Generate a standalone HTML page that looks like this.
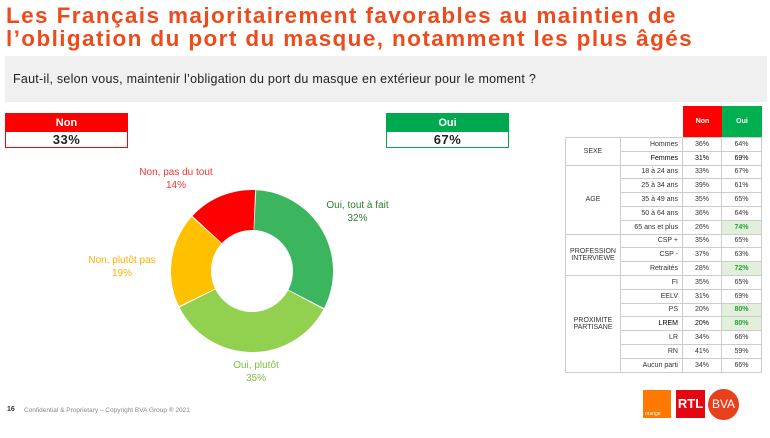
<!DOCTYPE html>
<html><head><meta charset="utf-8"><style>
body{margin:0;width:770px;height:425px;background:#fff;font-family:"Liberation Sans",sans-serif;position:relative;overflow:hidden}
.abs{position:absolute}
h1{position:absolute;left:6px;top:4px;margin:0;font-size:22.5px;line-height:23px;font-weight:bold;letter-spacing:1.4px;color:#ee4a1c;white-space:nowrap}
.q{left:5px;top:56px;width:762px;height:46px;background:#f0f0f0;font-size:12.5px;letter-spacing:0.25px;color:#222;line-height:46px;text-indent:8px}
.box{width:121px;height:33px;font-weight:bold;text-align:center}
.box .h{height:18px;line-height:18px;color:#fff;font-size:11px}
.box .v{height:15px;line-height:15px;font-size:13px;color:#222;background:#fff;letter-spacing:0.5px}
.lab{font-size:10px;text-align:center;line-height:12.5px}
table{position:absolute;left:565px;top:106px;border-collapse:collapse;font-size:7px;color:#333}
td{height:12.8px;padding:0;border:1px solid #ccc;text-align:center}
td.r{text-align:right;padding-right:4px}
td.g{background:#e2efda;color:#22a33a;font-weight:bold}
.b{color:#000}
</style></head><body>
<h1>Les Français majoritairement favorables au maintien de<br>l’obligation du port du masque, notamment les plus âgés</h1>
<div class="abs q">Faut-il, selon vous, maintenir l’obligation du port du masque en extérieur pour le moment ?</div>
<div class="abs box" style="left:5px;top:113px;border:1px solid #f00"><div class="h" style="background:#f00">Non</div><div class="v">33%</div></div>
<div class="abs box" style="left:386px;top:113px;border:1px solid #00a84f"><div class="h" style="background:#00a84f">Oui</div><div class="v">67%</div></div>
<svg class="abs" style="left:0;top:0" width="770" height="425">
<g transform="rotate(-87 252 271)" fill="none" stroke-width="40">
<circle cx="252" cy="271" r="61" stroke="#3bb65e" stroke-dasharray="121.65 261.62" stroke-dashoffset="0"/>
<circle cx="252" cy="271" r="61" stroke="#92d050" stroke-dasharray="133.14 250.13" stroke-dashoffset="-122.65"/>
<circle cx="252" cy="271" r="61" stroke="#ffc000" stroke-dasharray="71.82 311.45" stroke-dashoffset="-256.79"/>
<circle cx="252" cy="271" r="61" stroke="#ff0000" stroke-dasharray="52.66 330.61" stroke-dashoffset="-329.61"/>
</g>
</svg>
<div class="abs lab" style="left:116px;top:167px;width:120px;color:#f33">Non, pas du tout<br>14%</div>
<div class="abs lab" style="left:300px;top:200px;width:115px;color:#2e7d32">Oui, tout à fait<br>32%</div>
<div class="abs lab" style="left:62px;top:255px;width:120px;color:#ffb000">Non, plutôt pas<br>19%</div>
<div class="abs lab" style="left:200px;top:360px;width:112px;color:#7cc040">Oui, plutôt<br>35%</div>
<div class="abs" style="left:683px;top:106px;width:39px;height:31px;background:#f00;color:#fff;font-size:7px;font-weight:bold;text-align:center;line-height:31px">Non</div>
<div class="abs" style="left:722px;top:106px;width:40px;height:31px;background:#00b050;color:#fff;font-size:7px;font-weight:bold;text-align:center;line-height:31px">Oui</div>
<table style="top:137px">
<colgroup><col style="width:55px"><col style="width:62px"><col style="width:39px"><col style="width:40px"></colgroup>
<tr><td rowspan="2">SEXE</td><td class="r">Hommes</td><td>36%</td><td>64%</td></tr>
<tr><td class="r b">Femmes</td><td class="b">31%</td><td class="b">69%</td></tr>
<tr><td rowspan="5">AGE</td><td class="r">18 à 24 ans</td><td>33%</td><td>67%</td></tr>
<tr><td class="r">25 à 34 ans</td><td>39%</td><td>61%</td></tr>
<tr><td class="r">35 à 49 ans</td><td>35%</td><td>65%</td></tr>
<tr><td class="r">50 à 64 ans</td><td>36%</td><td>64%</td></tr>
<tr><td class="r">65 ans et plus</td><td>26%</td><td class="g">74%</td></tr>
<tr><td rowspan="3">PROFESSION<br>INTERVIEWE</td><td class="r">CSP +</td><td>35%</td><td>65%</td></tr>
<tr><td class="r">CSP -</td><td>37%</td><td>63%</td></tr>
<tr><td class="r">Retraités</td><td>28%</td><td class="g">72%</td></tr>
<tr><td rowspan="7">PROXIMITE<br>PARTISANE</td><td class="r">FI</td><td>35%</td><td>65%</td></tr>
<tr><td class="r">EELV</td><td>31%</td><td>69%</td></tr>
<tr><td class="r">PS</td><td>20%</td><td class="g">80%</td></tr>
<tr><td class="r b">LREM</td><td class="b">20%</td><td class="g">80%</td></tr>
<tr><td class="r">LR</td><td>34%</td><td>66%</td></tr>
<tr><td class="r">RN</td><td>41%</td><td>59%</td></tr>
<tr><td class="r">Aucun parti</td><td>34%</td><td>66%</td></tr>
</table>
<div class="abs" style="left:7px;top:406px;font-size:7px;color:#333;font-weight:bold">16</div>
<div class="abs" style="left:24px;top:407px;font-size:6.5px;color:#888">Confidential &amp; Proprietary – Copyright BVA Group ®  2021</div>
<div class="abs" style="left:643px;top:390px;width:28px;height:28px;background:#ff7900;color:#fff;font-size:5px;line-height:48px;text-indent:2px">orange</div>
<div class="abs" style="left:676px;top:390px;width:29px;height:28px;background:#e30613;color:#fff;font-weight:bold;font-size:13px;line-height:28px;text-align:center">RTL</div>
<div class="abs" style="left:708px;top:389px;width:31px;height:31px;border-radius:50%;background:#e8401c;color:#fff;font-size:12px;line-height:31px;text-align:center">BVA</div>
</body></html>
